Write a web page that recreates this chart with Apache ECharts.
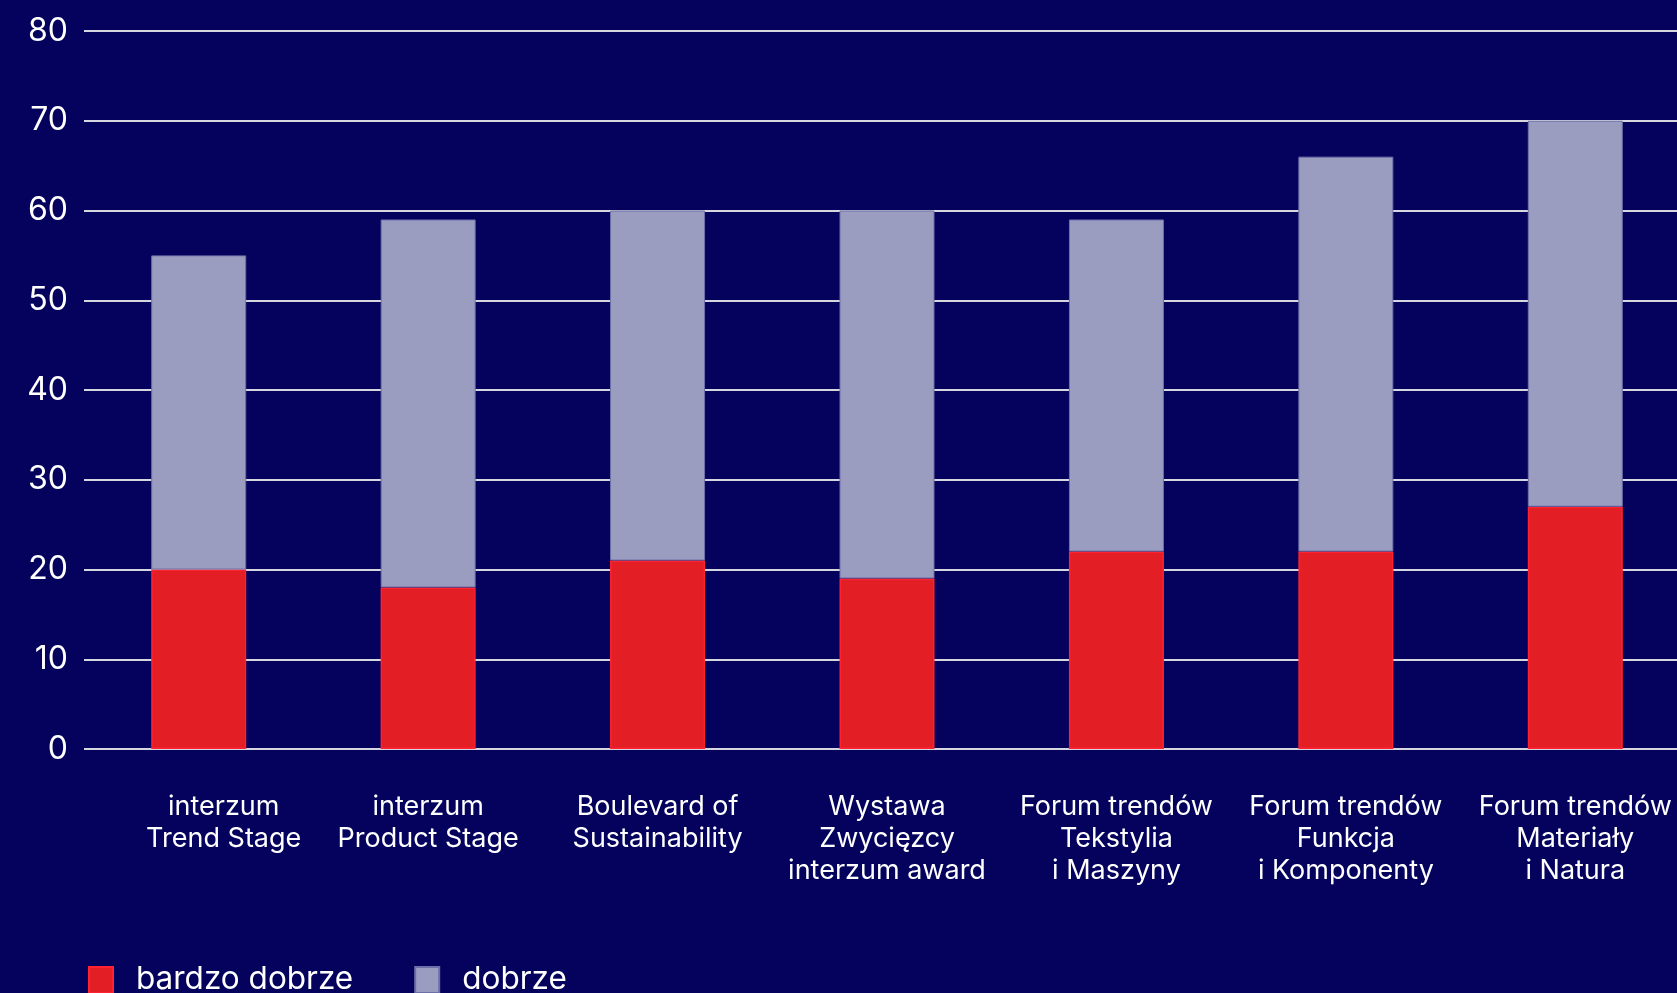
<!DOCTYPE html>
<html>
<head>
<meta charset="utf-8">
<script src="https://cdn.jsdelivr.net/npm/echarts@6/dist/echarts.min.js"></script>
<style>
  html, body { margin: 0; padding: 0; background: #04025d; }
  #chart { width: 1677px; height: 993px; }
</style>
</head>
<body>
<div id="chart"></div>
<script>
// kategorie (wydarzenia)
const categories = [
  'interzum\nTrend Stage',
  'interzum\nProduct Stage',
  'Boulevard of\nSustainability',
  'Wystawa\nZwycięzcy\ninterzum award',
  'Forum trendów\nTekstylia\ni Maszyny',
  'Forum trendów\nFunkcja\ni Komponenty',
  'Forum trendów\nMateriały\ni Natura'
];
const bardzoDobrze = [20, 18, 21, 19, 22, 22, 27];
const dobrze = [35, 41, 39, 41, 37, 44, 43];
const yTicks = { min: 0, max: 80, step: 10 };

const font = 'Inter, Lato, sans-serif';

// pierwszy podpis jest w oryginale lekko przesunięty w prawo
const xData = categories.map((c, i) => i === 0
  ? { value: c, textStyle: { padding: [0, 0, 0, 50] } }
  : c);

const chart = echarts.init(document.getElementById('chart'));
chart.setOption({
  backgroundColor: '#04025d',
  animation: false,
  grid: { left: 84, top: 31, width: 1606, height: 718, outerBoundsMode: 'none' },
  legend: {
    left: 88,
    top: 964,
    padding: 0,
    itemWidth: 24,
    itemHeight: 26,
    itemGap: 61,
    icon: 'rect',
    textStyle: { color: '#ffffff', fontFamily: font, fontSize: 31.5, padding: [0, 0, 0, 18] },
    data: ['bardzo dobrze', 'dobrze']
  },
  xAxis: {
    type: 'category',
    data: xData,
    axisLine: { show: false },
    axisTick: { show: false },
    axisLabel: {
      color: '#ffffff',
      fontFamily: font,
      fontSize: 27,
      lineHeight: 32,
      margin: 42,
      interval: 0
    }
  },
  yAxis: {
    type: 'value',
    min: yTicks.min,
    max: yTicks.max,
    interval: yTicks.step,
    axisLine: { show: false },
    axisTick: { show: false },
    axisLabel: { color: '#ffffff', fontFamily: font, fontSize: 32, margin: 16 },
    splitLine: { lineStyle: { color: '#d6d6de', width: 2 } }
  },
  series: [
    {
      name: 'bardzo dobrze',
      type: 'bar',
      stack: 'ocena',
      barWidth: 95,
      data: bardzoDobrze,
      itemStyle: { color: '#e31e24', borderColor: '#ff2232', borderWidth: 1.5 }
    },
    {
      name: 'dobrze',
      type: 'bar',
      stack: 'ocena',
      barWidth: 95,
      data: dobrze,
      itemStyle: { color: '#9b9dc0', borderColor: '#6d70a8', borderWidth: 1 }
    }
  ]
});
</script>
</body>
</html>
